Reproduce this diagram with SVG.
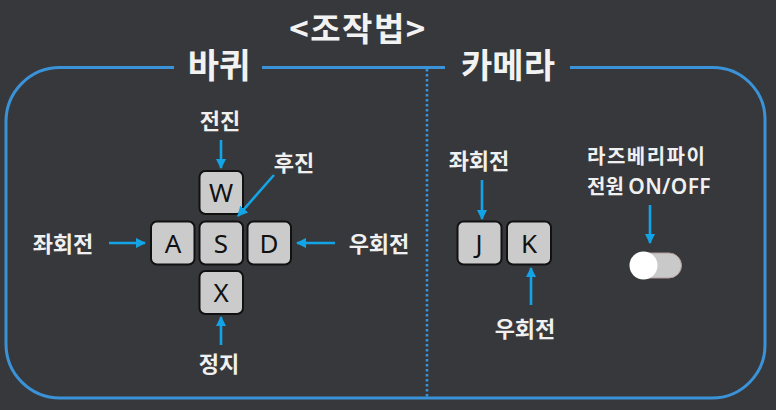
<svg xmlns="http://www.w3.org/2000/svg" width="776" height="410" viewBox="0 0 776 410">
<defs>
<style>
.title{font-family:"Noto Sans CJK KR","Noto Sans",sans-serif;font-weight:bold;fill:#f2f2f2;text-anchor:middle}
.lbl{font-family:"Noto Sans CJK KR","Noto Sans",sans-serif;font-weight:bold;font-size:22px;fill:#f0f0f0;text-anchor:middle}
.key rect{fill:#cbcbcb;stroke:#111;stroke-width:2}
.key text{font-family:"Noto Sans","Open Sans",sans-serif;font-size:26px;fill:#111;text-anchor:middle}
.arr{stroke:#12a4e6;stroke-width:2.6;fill:none;marker-end:url(#ah)}
.frame{fill:none;stroke:#3a93d8;stroke-width:3}
</style>
<marker id="ah" viewBox="0 0 10 10" refX="9" refY="5" markerWidth="4" markerHeight="4" orient="auto" markerUnits="strokeWidth">
<path d="M0,0 L10,5 L0,10 Z" fill="#12a4e6"/>
</marker>
</defs>
<rect width="776" height="410" fill="#37383b"/>
<g id="frame">
<path class="frame" d="M174,67.5 H60 A54,54 0 0 0 6,121.5 V344 A54,54 0 0 0 60,398 H712 A53,53 0 0 0 765,345 V119 A52,52 0 0 0 713,67.5 H570"/>
<path class="frame" d="M262,67.5 H445"/>
<line x1="427" y1="69" x2="427" y2="398" stroke="#3a93d8" stroke-width="2.6" stroke-dasharray="2.5,2.5"/>
</g>
<text class="title" x="358" y="41" font-size="33" letter-spacing="1.5">&lt;조작법&gt;</text>
<text class="title" x="219" y="78" font-size="34">바퀴</text>
<text class="title" x="508" y="78" font-size="34">카메라</text>
<g id="key-w" class="key"><rect x="199.5" y="171" width="43.5" height="43" rx="6"/><text x="221" y="202">W</text></g>
<g id="key-a" class="key"><rect x="151" y="221.5" width="43.5" height="43" rx="6"/><text x="173" y="252.5">A</text></g>
<g id="key-s" class="key"><rect x="199.5" y="221.5" width="43.5" height="43" rx="6"/><text x="221" y="252.5">S</text></g>
<g id="key-d" class="key"><rect x="247.5" y="221.5" width="43.5" height="43" rx="6"/><text x="269" y="252.5">D</text></g>
<g id="key-x" class="key"><rect x="199.5" y="271" width="43.5" height="43" rx="6"/><text x="221" y="302">X</text></g>
<g id="key-j" class="key"><rect x="457.5" y="221.5" width="44" height="43" rx="6"/><text x="479" y="252.5">J</text></g>
<g id="key-k" class="key"><rect x="507" y="221.5" width="44" height="43" rx="6"/><text x="529" y="252.5">K</text></g>
<g id="toggle">
<rect x="631.5" y="253" width="50" height="25" rx="12.5" fill="#c9c9c9" stroke="#b49c9c" stroke-width="1"/>
<circle cx="643.5" cy="265.5" r="14" fill="#ffffff"/>
</g>
<g id="labels">
<text class="lbl" x="220" y="129">전진</text>
<text class="lbl" x="294" y="171">후진</text>
<text class="lbl" x="63" y="252">좌회전</text>
<text class="lbl" x="379" y="252">우회전</text>
<text class="lbl" x="219" y="372">정지</text>
<text class="lbl" x="479" y="169">좌회전</text>
<text class="lbl" x="525" y="337">우회전</text>
<text class="lbl" x="587" y="164" style="text-anchor:start;font-size:20px" letter-spacing="1.5">라즈베리파이</text>
<text class="lbl" x="587" y="194" style="text-anchor:start;font-size:20px">전원 <tspan font-family="Noto Sans, sans-serif" font-weight="600" font-size="21" letter-spacing="0.3">ON/OFF</tspan></text>
</g>
<g id="connectors">
<line class="arr" x1="221" y1="140" x2="221" y2="168"/>
<line class="arr" x1="274" y1="175" x2="238" y2="216"/>
<line class="arr" x1="109" y1="243" x2="145" y2="243"/>
<line class="arr" x1="335" y1="243" x2="297" y2="243"/>
<line class="arr" x1="221" y1="345" x2="221" y2="317"/>
<line class="arr" x1="482" y1="180" x2="482" y2="219"/>
<line class="arr" x1="531" y1="305" x2="531" y2="268"/>
<line class="arr" x1="650" y1="205" x2="650" y2="243"/>
</g>
</svg>
